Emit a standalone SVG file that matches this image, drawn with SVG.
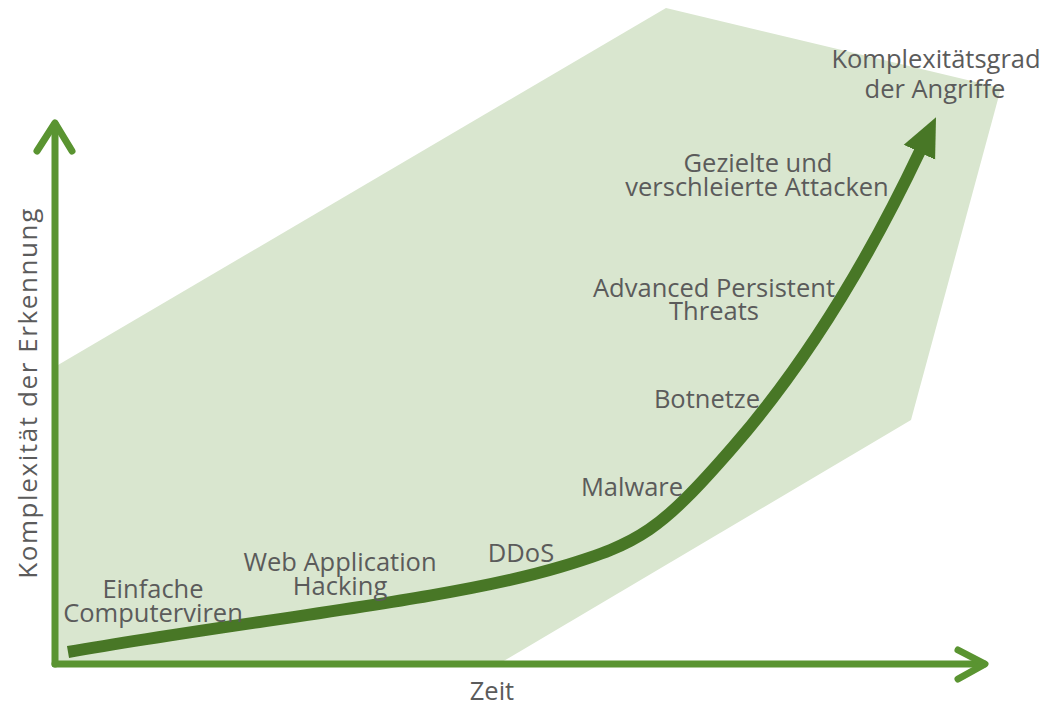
<svg xmlns="http://www.w3.org/2000/svg" width="1047" height="708" viewBox="0 0 1047 708">
  <defs>
    <style>
      .lbl { font-family: "Open Sans", "Liberation Sans", sans-serif; font-size: 25.5px; fill: #5b5b5b; text-anchor: middle; }
      .axis { fill: none; stroke: #5a9431; stroke-width: 7; stroke-linecap: round; stroke-linejoin: round; }
      .trend { fill: none; stroke: #487726; stroke-width: 12; }
    </style>
    <marker id="trendHead" markerUnits="userSpaceOnUse" markerWidth="40" markerHeight="40" refX="1" refY="13" orient="auto" viewBox="0 0 30 26">
      <path d="M0,0 L29,13 L0,26 Z" fill="#487726"/>
    </marker>
  </defs>

  <!-- shaded region -->
  <polygon id="area" points="58,365 666,8 1001,88 911,420 502,662 58,662" fill="#d9e6cf"/>

  <g id="connectors">
    <!-- axes -->
    <path class="axis" d="M55,664 V124"/>
    <path class="axis" d="M37,151 L55,123 L72,151"/>
    <path class="axis" d="M55,664 H984"/>
    <path class="axis" d="M958,650 L985,664 L958,679"/>
    <!-- trend curve: three smooth cubic pieces -->
    <path class="trend" marker-end="url(#trendHead)"
      d="M68,652 C250,620 450,600 560,567
         C640,543 660,531 733,447
         C800,370 864,269 920,151"/>
  </g>

  <g id="label-y"><text class="lbl" transform="translate(37,393) rotate(-90)" style="font-size:26px;letter-spacing:1.6px">Komplexität der Erkennung</text></g>
  <g id="label-x"><text class="lbl" x="492" y="700">Zeit</text></g>
  <g id="label-curve"><text class="lbl" x="936" y="68">Komplexitätsgrad</text><text class="lbl" x="935" y="98">der Angriffe</text></g>
  <g id="n-gezielt"><text class="lbl" x="758" y="172">Gezielte und</text><text class="lbl" x="757" y="196">verschleierte Attacken</text></g>
  <g id="n-apt"><text class="lbl" x="714" y="297">Advanced Persistent</text><text class="lbl" x="714" y="320">Threats</text></g>
  <g id="n-botnetze"><text class="lbl" x="707" y="408">Botnetze</text></g>
  <g id="n-malware"><text class="lbl" x="632" y="496">Malware</text></g>
  <g id="n-ddos"><text class="lbl" x="521" y="562">DDoS</text></g>
  <g id="n-web"><text class="lbl" x="340" y="571">Web Application</text><text class="lbl" x="340" y="595">Hacking</text></g>
  <g id="n-viren"><text class="lbl" x="153" y="598">Einfache</text><text class="lbl" x="153" y="622">Computerviren</text></g>
</svg>
